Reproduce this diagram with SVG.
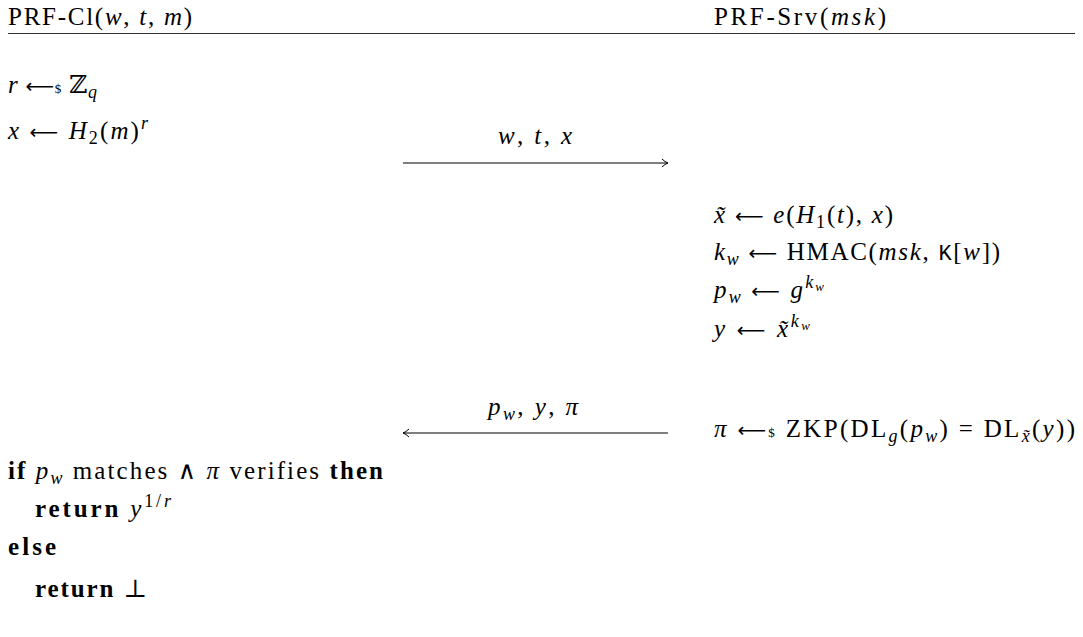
<svg xmlns="http://www.w3.org/2000/svg" width="1083" height="637" viewBox="0 0 1083 637">
<style>
.t{font-family:"Liberation Serif","DejaVu Serif",serif;font-size:25px;fill:#000}
.i{font-style:italic}
.b{font-weight:bold}
.s{font-size:18px}
.ss{font-size:13px}
.bb{font-family:"DejaVu Serif",serif}
.tt{font-family:"Liberation Mono",monospace;font-size:22px}
.ar{font-family:"DejaVu Sans",sans-serif;font-size:20px}
.conn{stroke:#000;stroke-width:1.1;fill:none}
.rule{stroke:#333;stroke-width:1}
</style>
<defs>
<marker id="head" markerWidth="10" markerHeight="10" refX="8" refY="5" orient="auto-start-reverse" markerUnits="userSpaceOnUse">
<path d="M2 1 Q5 4 8 5 Q5 6 2 9" fill="none" stroke="#000" stroke-width="1"/>
</marker>
</defs>
<rect width="1083" height="637" fill="#fff"/>
<g id="headers">
<text id="h-client" class="t" x="8" y="25" textLength="184" lengthAdjust="spacing">PRF-Cl(<tspan class="i">w</tspan>, <tspan class="i">t</tspan>, <tspan class="i">m</tspan>)</text>
<text id="h-server" class="t" x="714" y="25" textLength="172" lengthAdjust="spacing">PRF-Srv(<tspan class="i">msk</tspan>)</text>
<line class="rule" x1="8" y1="33.5" x2="1075" y2="33.5"/>
</g>
<g id="client">
<text id="c1" class="t" x="8" y="93" textLength="89" lengthAdjust="spacing"><tspan class="i">r</tspan> <tspan class="ar">⟵</tspan><tspan class="ss">$</tspan> <tspan class="bb">ℤ</tspan><tspan class="s i" dy="5">q</tspan></text>
<text id="c2" class="t" x="8" y="139" textLength="140" lengthAdjust="spacing"><tspan class="i">x</tspan> <tspan class="ar">⟵</tspan> <tspan class="i">H</tspan><tspan class="s" dy="5">2</tspan><tspan dy="-5">(</tspan><tspan class="i">m</tspan>)<tspan class="s i" dy="-10">r</tspan></text>
<text id="c3" class="t" x="8" y="479" textLength="375" lengthAdjust="spacing"><tspan class="b">if</tspan> <tspan class="i">p</tspan><tspan class="s i" dy="5">w</tspan><tspan dy="-5"> matches  ∧ </tspan><tspan class="i">π</tspan> verifies <tspan class="b">then</tspan></text>
<text id="c4" class="t" x="35" y="517" textLength="136" lengthAdjust="spacing"><tspan class="b">return</tspan> <tspan class="i">y</tspan><tspan class="s" dy="-10">1/<tspan class="i">r</tspan></tspan></text>
<text id="c5" class="t b" x="8" y="555" textLength="48" lengthAdjust="spacing">else</text>
<text id="c6" class="t" x="35" y="597" textLength="112" lengthAdjust="spacing"><tspan class="b">return</tspan> ⊥</text>
</g>
<g id="server">
<text id="s1" class="t" x="714" y="223" textLength="179" lengthAdjust="spacing"><tspan class="i">x̃</tspan> <tspan class="ar">⟵</tspan> <tspan class="i">e</tspan>(<tspan class="i">H</tspan><tspan class="s" dy="5">1</tspan><tspan dy="-5">(</tspan><tspan class="i">t</tspan>), <tspan class="i">x</tspan>)</text>
<text id="s2" class="t" x="714" y="260" textLength="286" lengthAdjust="spacing"><tspan class="i">k</tspan><tspan class="s i" dy="5">w</tspan><tspan dy="-5"> </tspan><tspan class="ar">⟵</tspan> HMAC(<tspan class="i">msk</tspan>, <tspan class="tt">K</tspan>[<tspan class="i">w</tspan>])</text>
<text id="s3" class="t" x="714" y="298" textLength="110" lengthAdjust="spacing"><tspan class="i">p</tspan><tspan class="s i" dy="5">w</tspan><tspan dy="-5"> </tspan><tspan class="ar">⟵</tspan> <tspan class="i">g</tspan><tspan class="s i" dy="-10">k<tspan class="ss" dy="3">w</tspan></tspan></text>
<text id="s4" class="t" x="714" y="337" textLength="96" lengthAdjust="spacing"><tspan class="i">y</tspan> <tspan class="ar">⟵</tspan> <tspan class="i">x̃</tspan><tspan class="s i" dy="-10">k<tspan class="ss" dy="3">w</tspan></tspan></text>
<text id="s5" class="t" x="714" y="437" textLength="361" lengthAdjust="spacing"><tspan class="i">π</tspan> <tspan class="ar">⟵</tspan><tspan class="ss">$</tspan> ZKP(DL<tspan class="s i" dy="5">g</tspan><tspan dy="-5">(</tspan><tspan class="i">p</tspan><tspan class="s i" dy="5">w</tspan><tspan dy="-5">) = DL</tspan><tspan class="s i" dy="5">x̃</tspan><tspan dy="-5">(</tspan><tspan class="i">y</tspan>))</text>
</g>
<g id="connectors">
<g id="msg1">
<line class="conn" x1="403" y1="163" x2="668" y2="163" marker-end="url(#head)"/>
<text class="t" x="535" y="144" text-anchor="middle" textLength="74" lengthAdjust="spacing"><tspan class="i">w</tspan>, <tspan class="i">t</tspan>, <tspan class="i">x</tspan></text>
</g>
<g id="msg2">
<line class="conn" x1="403" y1="433" x2="668" y2="433" marker-start="url(#head)"/>
<text class="t" x="533" y="415" text-anchor="middle" textLength="90" lengthAdjust="spacing"><tspan class="i">p</tspan><tspan class="s i" dy="5">w</tspan><tspan dy="-5">, </tspan><tspan class="i">y</tspan>, <tspan class="i">π</tspan></text>
</g>
</g>
</svg>
